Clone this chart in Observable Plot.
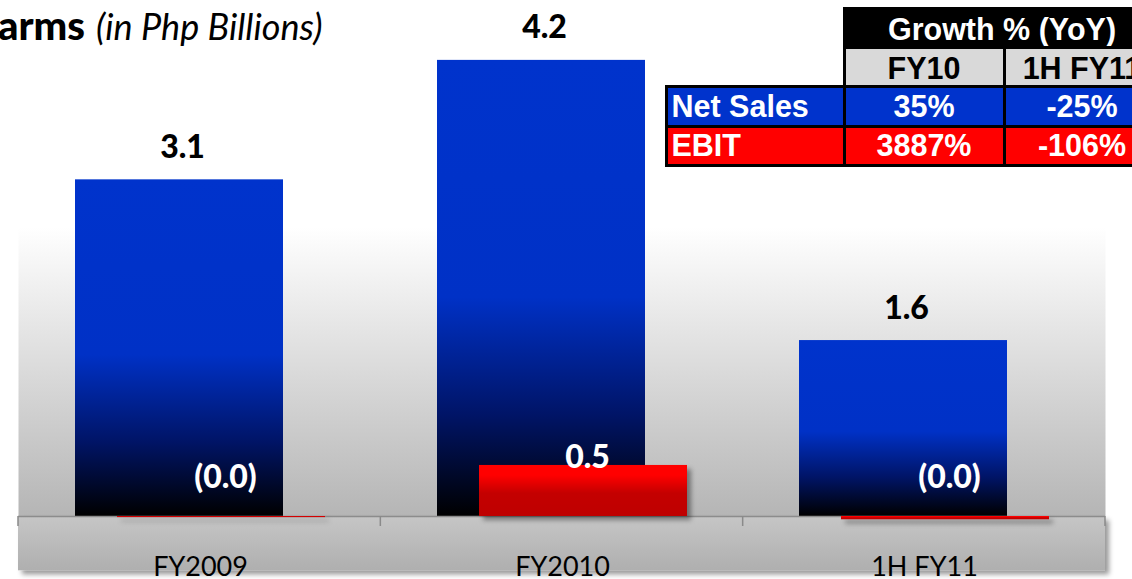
<!DOCTYPE html>
<html><head><meta charset="utf-8">
<script src="https://cdn.jsdelivr.net/npm/d3@7"></script>
<script src="https://cdn.jsdelivr.net/npm/@observablehq/plot@0.6"></script>
<style>
html,body{margin:0;padding:0;background:#fff;}
#wrap{position:relative;width:1132px;height:579px;overflow:hidden;}
#chart{position:absolute;left:0;top:0;}
#title{position:absolute;left:-2px;top:5px;font-family:Lato,sans-serif;font-size:40px;line-height:1;white-space:nowrap;color:#000;}
#title .b{font-weight:900;}
#title .i{font-style:italic;font-size:36px;margin-left:11px;}
.cell{position:absolute;box-sizing:border-box;border:3px solid #000;display:flex;align-items:center;justify-content:center;font-family:"Liberation Sans",Arial,sans-serif;font-weight:bold;font-size:30.5px;color:#fff;white-space:nowrap;}
</style></head><body>
<div id="wrap"><div id="chart"></div><div id="title"></div><div id="table"></div></div>
<script>
// ---- data ----
const titleBold = "arms";
const titleItalic = "(in Php Billions)";
const categories = ["FY2009", "FY2010", "1H FY11"];
const netSales = [3.1, 4.2, 1.62];
const ebit = [-0.01, 0.47, -0.03];
const tableTitle = "Growth %\u00a0(YoY)";
const tablePeriods = ["FY10", "1H FY11"];
const tableMetrics = ["Net Sales", "EBIT"];
const growthNetSales = ["35%", "-25%"];
const growthEbit = ["3887%", "-106%"];

// ---- title ----
document.getElementById("title").innerHTML =
  `<span class="b">${titleBold}</span><span class="i">${titleItalic}</span>`;

// ---- chart ----
const data = categories.map((c, i) => ({category: c, netSales: netSales[i], ebit: ebit[i]}));
const fmt = v => v < 0 ? `(${Math.abs(v).toFixed(1)})` : v.toFixed(1);
const pxPerUnit = 108.6;
const W = 1132, H = 579, mL = 18, mR = 27, mB = 63, mT = 0;

const defs = () => {
  const d = d3.create("svg:defs");
  const lg = (id, stops) => {
    const g = d.append("linearGradient").attr("id", id).attr("x1", 0).attr("y1", 0).attr("x2", 0).attr("y2", 1);
    stops.forEach(([o, c]) => g.append("stop").attr("offset", o).attr("stop-color", c));
  };
  lg("bgGrad", [[0, "#ffffff"], [0.44, "#ffffff"], [1, "#b5b5b5"]]);
  lg("floorGrad", [[0, "#c6c6c6"], [1, "#afafaf"]]);
  lg("blueGrad", [[0, "#0033cc"], [0.52, "#0031c6"], [0.78, "#001466"], [1, "#000000"]]);
  lg("redGrad", [[0, "#ff0000"], [0.2, "#ff0000"], [0.55, "#c40000"], [1, "#be0000"]]);
  const f = d.append("filter").attr("id", "shadow").attr("x", "-10%").attr("y", "-10%").attr("width", "130%").attr("height", "160%");
  f.append("feDropShadow").attr("dx", 4).attr("dy", 4).attr("stdDeviation", 2.5).attr("flood-color", "#000").attr("flood-opacity", 0.4);
  return d.node();
};

const boundaryTicks = (index, scales, values, dim) => {
  const g = d3.create("svg:g");
  const step = (dim.width - dim.marginLeft - dim.marginRight) / categories.length;
  const y0 = dim.height - dim.marginBottom;
  for (let i = 0; i <= categories.length; i++) {
    const x = dim.marginLeft + i * step;
    g.append("line").attr("x1", x).attr("x2", x).attr("y1", y0).attr("y2", y0 + 10)
      .attr("stroke", "#8a8a8a").attr("stroke-width", 1.5);
  }
  return g.node();
};

const small = d => Math.abs(d.ebit) < 0.05;

const chart = Plot.plot({
  width: W, height: H,
  marginLeft: mL, marginRight: mR, marginTop: mT, marginBottom: mB,
  style: {fontFamily: "Lato, sans-serif", background: "transparent", overflow: "visible"},
  x: {domain: categories, paddingInner: 0.426, paddingOuter: 0.213, axis: null},
  y: {domain: [0, (H - mB - mT) / pxPerUnit], axis: null},
  marks: [
    defs,
    Plot.frame({fill: "url(#bgGrad)", stroke: null}),
    Plot.rect([0], {y1: 0, y2: -0.5, fill: "url(#floorGrad)"}),
    Plot.barY(data, {x: "category", y: "netSales", dx: -21, fill: "url(#blueGrad)"}),
    Plot.ruleY([0], {stroke: "#8c8c8c", strokeWidth: 1.5}),
    Plot.barY(data, {x: "category", y: "ebit", dx: 21, fill: "url(#redGrad)"}),
    boundaryTicks,
    Plot.axisX({tickSize: 0, tickPadding: 40, fontSize: 27, label: null, fill: "#000"}),
    Plot.text(data, {x: "category", y: "netSales", text: d => fmt(d.netSales), dx: -18, dy: -22,
      lineAnchor: "bottom", fontSize: 32, fontWeight: 900, fill: "#000"}),
    Plot.text(data.filter(small), {x: "category", y: d => Math.max(d.ebit, 0), text: d => fmt(d.ebit), dx: 25, dy: -29,
      lineAnchor: "bottom", fontSize: 32, fontWeight: 900, fill: "#fff"}),
    Plot.text(data.filter(d => !small(d)), {x: "category", y: "ebit", text: d => fmt(d.ebit), dx: 25, dy: 3,
      lineAnchor: "bottom", fontSize: 32, fontWeight: 900, fill: "#fff"})
  ]
});
document.getElementById("chart").appendChild(chart);
const svg = d3.select(chart);
svg.selectAll('g[aria-label="frame"], g[aria-label="rect"]').attr("filter", "url(#shadow)");
const bars = svg.selectAll('g[aria-label="bar"]').nodes();
if (bars[1]) bars[1].setAttribute("filter", "url(#shadow)");
svg.selectAll('g[aria-label="x-axis tick label"] text, g[aria-label="x-axis tick label"]').attr("fill", "#000");

// ---- growth table ----
const colEdges = [666, 844, 1004, 1160];
const rowEdges = [8, 47, 86, 126.5, 165];
const tbl = document.getElementById("table");
const addCell = (r0, r1, c0, c1, text, bg, color, opts = {}) => {
  const el = document.createElement("div");
  el.className = "cell";
  el.style.left = (colEdges[c0] - 1.5) + "px";
  el.style.width = (colEdges[c1] - colEdges[c0] + 3) + "px";
  el.style.top = (rowEdges[r0] - 1.5) + "px";
  el.style.height = (rowEdges[r1] - rowEdges[r0] + 3) + "px";
  el.style.background = bg;
  el.style.color = color;
  if (opts.padTop) el.style.paddingTop = opts.padTop + "px";
  if (opts.left) { el.style.justifyContent = "flex-start"; el.style.paddingLeft = "4px"; }
  el.textContent = text;
  tbl.appendChild(el);
};
addCell(0, 1, 1, 3, tableTitle, "#000", "#fff", {padTop: 3});
tablePeriods.forEach((p, j) => addCell(1, 2, 1 + j, 2 + j, p, "#d9d9d9", "#000", {padTop: 3}));
const rowColors = ["#0033cc", "#ff0000"];
[growthNetSales, growthEbit].forEach((vals, i) => {
  addCell(2 + i, 3 + i, 0, 1, tableMetrics[i], rowColors[i], "#fff", {left: true});
  vals.forEach((v, j) => addCell(2 + i, 3 + i, 1 + j, 2 + j, v, rowColors[i], "#fff"));
});
</script>
</body></html>
